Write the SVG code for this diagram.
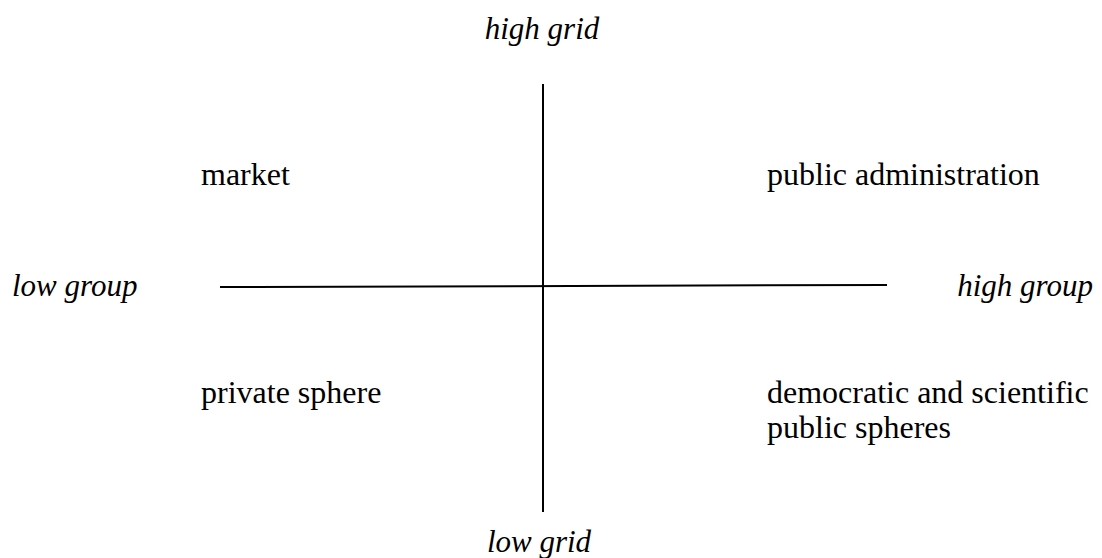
<svg xmlns="http://www.w3.org/2000/svg" width="1102" height="558" viewBox="0 0 1102 558">
<style>
text{font-family:"Liberation Serif","Times New Roman",serif;font-size:32px;fill:#000}
.ax{font-style:italic;font-size:31px}
.ln{stroke:#000;stroke-width:2;fill:none}
</style>
<rect width="1102" height="558" fill="#fff"/>
<g id="connectors">
<line class="ln" x1="543" y1="84" x2="543" y2="512"/>
<line class="ln" x1="220" y1="287" x2="887" y2="285"/>
</g>
<g id="high-grid"><text class="ax" x="542" y="39" text-anchor="middle">high grid</text></g>
<g id="low-grid"><text class="ax" x="539" y="552" text-anchor="middle">low grid</text></g>
<g id="low-group"><text class="ax" x="12" y="296">low group</text></g>
<g id="high-group"><text class="ax" x="1093" y="296" text-anchor="end">high group</text></g>
<g id="market"><text x="201" y="185">market</text></g>
<g id="public-administration"><text x="767" y="185">public administration</text></g>
<g id="private-sphere"><text x="201" y="403">private sphere</text></g>
<g id="democratic"><text x="767" y="403">democratic and scientific</text><text x="767" y="438">public spheres</text></g>
</svg>
